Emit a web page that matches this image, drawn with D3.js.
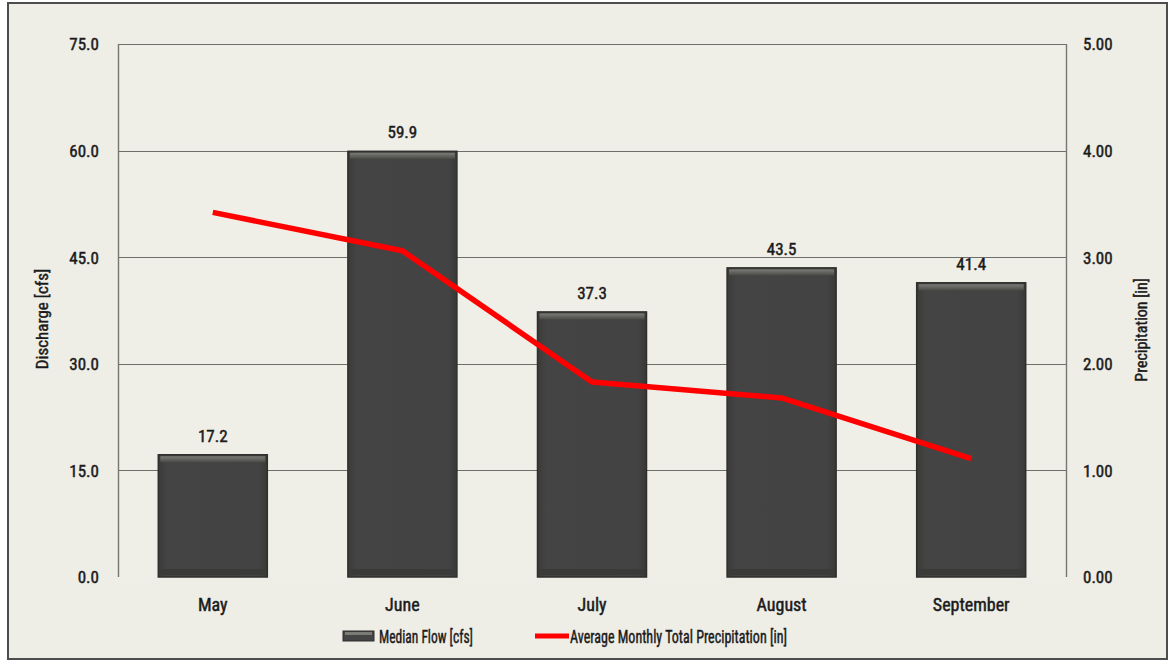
<!DOCTYPE html>
<html>
<head>
<meta charset="utf-8">
<script src="https://cdn.jsdelivr.net/npm/d3@7"></script>
<style>
  html, body { margin: 0; padding: 0; background: #ffffff; }
  svg { display: block; }
  text { font-family: "Liberation Sans Narrow", "Arial Narrow", "Roboto Condensed", "Liberation Sans", sans-serif; font-weight: normal; fill: #1a1a1a; stroke: #1a1a1a; stroke-width: 0.45px; }
</style>
</head>
<body>
<script>
// Monthly data
const months = ["May", "June", "July", "August", "September"];
const medianFlow = [17.2, 59.9, 37.3, 43.5, 41.4];           // cfs
const precipitation = [3.42, 3.06, 1.83, 1.68, 1.11];         // inches
const flowTicks = [0, 15, 30, 45, 60, 75];
const precipTicks = [0, 1, 2, 3, 4, 5];

const W = 1173, H = 662;
const plot = { left: 118, right: 1066, top: 44, bottom: 577 };

const svg = d3.select("body").append("svg").attr("width", W).attr("height", H);

const defs = svg.append("defs");
const barGrad = defs.append("linearGradient").attr("id", "barFill").attr("x1", 0).attr("x2", 1).attr("y1", 0).attr("y2", 0);
barGrad.append("stop").attr("offset", "0%").attr("stop-color", "#3a3a38");
barGrad.append("stop").attr("offset", "8%").attr("stop-color", "#444444");
barGrad.append("stop").attr("offset", "92%").attr("stop-color", "#434343");
barGrad.append("stop").attr("offset", "100%").attr("stop-color", "#383836");
const bevel = defs.append("linearGradient").attr("id", "bevelTop").attr("x1", 0).attr("x2", 0).attr("y1", 0).attr("y2", 1);
bevel.append("stop").attr("offset", "0%").attr("stop-color", "#7b7b76");
bevel.append("stop").attr("offset", "100%").attr("stop-color", "#4a4a48");

// Background and outer frame
svg.append("rect").attr("x", 0).attr("y", 0).attr("width", W).attr("height", H).attr("fill", "#ffffff");
svg.append("rect").attr("x", 8).attr("y", 3).attr("width", 1159).attr("height", 656)
  .attr("fill", "#eeede6").attr("stroke", "#4d4d4d").attr("stroke-width", 2);

const x = d3.scaleBand().domain(months).range([plot.left, plot.right]).paddingInner(0.425).paddingOuter(0.2125);
const yL = d3.scaleLinear().domain([0, 75]).range([plot.bottom, plot.top]);
const yR = d3.scaleLinear().domain([0, 5]).range([plot.bottom, plot.top]);

// Plot area
svg.append("rect").attr("x", plot.left).attr("y", plot.top)
  .attr("width", plot.right - plot.left).attr("height", plot.bottom - plot.top)
  .attr("fill", "#efeee7");

// Horizontal gridlines
svg.append("g").selectAll("line").data(flowTicks.filter(d => d > 0)).join("line")
  .attr("x1", plot.left).attr("x2", plot.right)
  .attr("y1", d => Math.round(yL(d)) + 0.5).attr("y2", d => Math.round(yL(d)) + 0.5)
  .attr("stroke", "#6f6f6a").attr("stroke-width", 1.2);

// Side axis lines
svg.append("line").attr("x1", plot.left + 0.5).attr("x2", plot.left + 0.5).attr("y1", plot.top).attr("y2", plot.bottom)
  .attr("stroke", "#77776f").attr("stroke-width", 1.4);
svg.append("line").attr("x1", plot.right + 0.5).attr("x2", plot.right + 0.5).attr("y1", plot.top).attr("y2", plot.bottom)
  .attr("stroke", "#77776f").attr("stroke-width", 1.4);

// Left axis
const leftAxis = svg.append("g").attr("transform", `translate(${plot.left - 19},0)`)
  .call(d3.axisLeft(yL).tickValues(flowTicks).tickFormat(d3.format(".1f")).tickSize(0).tickPadding(0));
leftAxis.select(".domain").remove();
leftAxis.selectAll("text").style("font-size", "17px").attr("dy", "0.35em");

// Right axis
const rightAxis = svg.append("g").attr("transform", `translate(${plot.right + 17},0)`)
  .call(d3.axisRight(yR).tickValues(precipTicks).tickFormat(d3.format(".2f")).tickSize(0).tickPadding(0));
rightAxis.select(".domain").remove();
rightAxis.selectAll("text").style("font-size", "17px").attr("dy", "0.35em");

// Bottom axis labels
const bottomAxis = svg.append("g").attr("transform", `translate(0,${plot.bottom + 21})`)
  .call(d3.axisBottom(x).tickSize(0).tickPadding(0));
bottomAxis.select(".domain").remove();
bottomAxis.selectAll("text").style("font-size", "18px").attr("dy", "0.71em");

// Axis titles
svg.append("text").attr("transform", `translate(48,319) rotate(-90)`)
  .attr("text-anchor", "middle").style("font-size", "17px").text("Discharge [cfs]");
svg.append("text").attr("transform", `translate(1147,330) rotate(-90)`)
  .attr("text-anchor", "middle").style("font-size", "16px").text("Precipitation [in]");

// Bars
const bars = svg.append("g").selectAll("g").data(months.map((m, i) => ({ m, v: medianFlow[i] }))).join("g");
bars.append("rect")
  .attr("x", d => x(d.m)).attr("y", d => yL(d.v))
  .attr("width", x.bandwidth()).attr("height", d => plot.bottom - yL(d.v))
  .attr("fill", "url(#barFill)").attr("stroke", "#2f2f2d").attr("stroke-width", 1.5);
bars.append("rect")
  .attr("x", d => x(d.m) + 2).attr("y", d => yL(d.v) + 1.5)
  .attr("width", x.bandwidth() - 4).attr("height", 6)
  .attr("fill", "url(#bevelTop)");
bars.append("rect")
  .attr("x", d => x(d.m) + 2).attr("y", plot.bottom - 8)
  .attr("width", x.bandwidth() - 4).attr("height", 6)
  .attr("fill", "#3a3a38");

// Bar value labels
svg.append("g").selectAll("text").data(months.map((m, i) => ({ m, v: medianFlow[i] }))).join("text")
  .attr("x", d => x(d.m) + x.bandwidth() / 2).attr("y", d => yL(d.v) - 13)
  .attr("text-anchor", "middle").style("font-size", "17px")
  .text(d => d3.format(".1f")(d.v));

// Precipitation line
const line = d3.line().x((d, i) => x(months[i]) + x.bandwidth() / 2).y(d => yR(d));
svg.append("path").datum(precipitation).attr("d", line)
  .attr("fill", "none").attr("stroke", "#ff0000").attr("stroke-width", 5.5).attr("stroke-linejoin", "round");

// Legend (condensed lettering)
const leg = svg.append("g");
leg.append("rect").attr("x", 343).attr("y", 631).attr("width", 31).attr("height", 10)
  .attr("fill", "#444444").attr("stroke", "#2f2f2d").attr("stroke-width", 1);
leg.append("rect").attr("x", 345).attr("y", 632).attr("width", 27).attr("height", 3).attr("fill", "#7b7b76");
leg.append("text").attr("x", 379).attr("y", 643).style("font-size", "19px")
  .attr("textLength", 94).attr("lengthAdjust", "spacingAndGlyphs").text("Median Flow [cfs]");
leg.append("line").attr("x1", 535).attr("x2", 569).attr("y1", 636).attr("y2", 636)
  .attr("stroke", "#ff0000").attr("stroke-width", 5);
leg.append("text").attr("x", 570).attr("y", 643).style("font-size", "19px")
  .attr("textLength", 217).attr("lengthAdjust", "spacingAndGlyphs").text("Average Monthly Total Precipitation [in]");
</script>
</body>
</html>
